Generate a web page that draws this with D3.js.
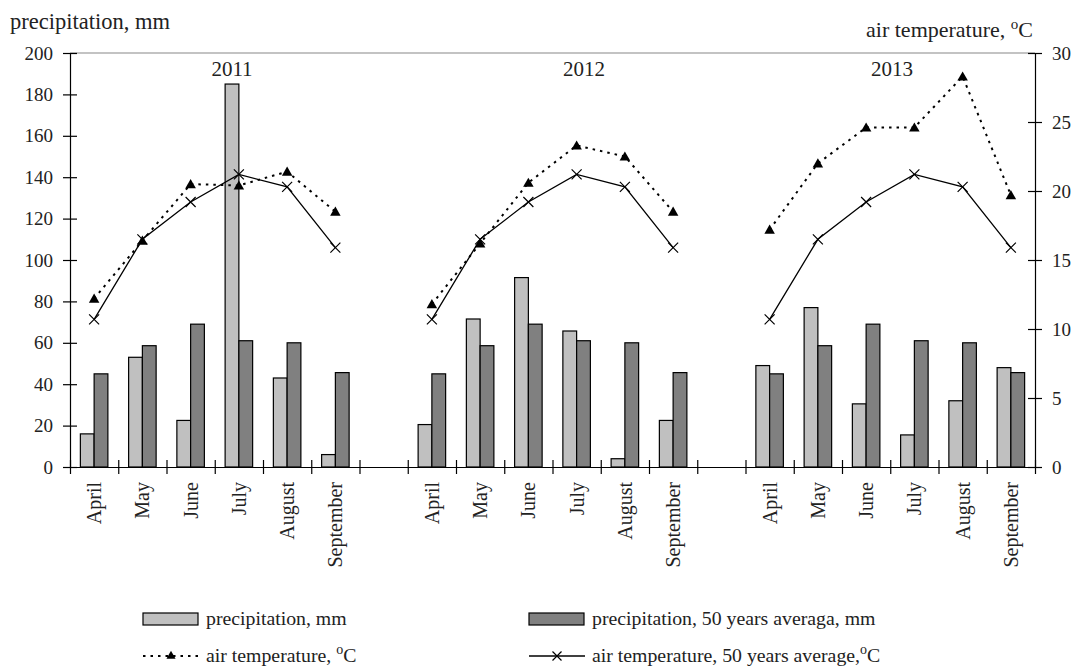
<!DOCTYPE html>
<html>
<head>
<meta charset="utf-8">
<script src="https://cdn.jsdelivr.net/npm/d3@7"></script>
<style>
  html, body { margin: 0; padding: 0; background: #fff; }
  svg { display: block; font-family: 'Liberation Serif', 'Times New Roman', serif; }
</style>
</head>
<body>
<svg id="chart" width="1075" height="670"></svg>
<script>
// ---- data ----
const years = ["2011", "2012", "2013"];
const months = ["April", "May", "June", "July", "August", "September"];
const precip2011 = [16, 53, 22.5, 185, 43, 6];
const precip2012 = [20.5, 71.5, 91.5, 65.7, 4, 22.5];
const precip2013 = [49, 77, 30.5, 15.5, 32, 48];
const precip50 = [45, 58.6, 69, 61, 60, 45.6];
const temp2011 = [12.2, 16.4, 20.5, 20.4, 21.4, 18.5];
const temp2012 = [11.8, 16.2, 20.6, 23.3, 22.5, 18.5];
const temp2013 = [17.2, 22.0, 24.6, 24.6, 28.3, 19.7];
const temp50 = [10.7, 16.5, 19.2, 21.2, 20.3, 15.9];
const leftTicks = [0, 20, 40, 60, 80, 100, 120, 140, 160, 180, 200];
const rightTicks = [0, 5, 10, 15, 20, 25, 30];
const seriesNames = ["precipitation, mm", "precipitation, 50 years averaga, mm", "air temperature, ", "air temperature, 50 years average,"];

const precipByYear = [precip2011, precip2012, precip2013];
const tempByYear = [temp2011, temp2012, temp2013];

// ---- layout ----
const svg = d3.select("#chart");
const X0 = 70, X1 = 1035, Y0 = 467, Y1 = 53;
const FONT = "'Liberation Serif', 'Times New Roman', serif";

// categories: 6 months per year with an empty category between years
const cats = [];
years.forEach((y, yi) => {
  months.forEach((m, mi) => cats.push({ key: y + "-" + m, year: yi, month: mi, label: m }));
  if (yi < years.length - 1) cats.push({ key: "gap" + yi, year: -1, month: -1, label: "" });
});

const x = d3.scaleBand().domain(cats.map(d => d.key)).range([X0, X1]).padding(0);
const xInner = d3.scaleBand().domain(["p", "a"]).range([0, x.bandwidth()]).paddingInner(0).paddingOuter(0.754);
const xBound = d3.scaleLinear().domain([0, cats.length]).range([X0, X1]);
const yL = d3.scaleLinear().domain([0, 200]).range([Y0, Y1]);
const yR = d3.scaleLinear().domain([0, 30]).range([Y0, Y1]);

const LIGHT = "#c0c0c0", DARK = "#808080";

// top border
svg.append("line").attr("x1", X0).attr("x2", X1).attr("y1", Y1).attr("y2", Y1)
  .attr("stroke", "#888").attr("stroke-width", 1.2);

// bars
const barData = [];
cats.forEach(c => {
  if (c.year < 0) return;
  barData.push({ key: c.key, s: "p", v: precipByYear[c.year][c.month] });
  barData.push({ key: c.key, s: "a", v: precip50[c.month] });
});
svg.append("g").selectAll("rect").data(barData).join("rect")
  .attr("x", d => x(d.key) + xInner(d.s))
  .attr("width", xInner.bandwidth())
  .attr("y", d => yL(d.v))
  .attr("height", d => Y0 - yL(d.v))
  .attr("fill", d => d.s === "p" ? LIGHT : DARK)
  .attr("stroke", "#000").attr("stroke-width", 1.2);

// lines (temperature, right axis)
const line = d3.line().x(d => d.x).y(d => yR(d.v));
const triPath = d3.symbol().type(d3.symbolTriangle).size(48)();
const crossPath = "M-5,-5L5,5M-5,5L5,-5";

years.forEach((yr, yi) => {
  const actual = months.map((m, mi) => ({ x: x(yr + "-" + m) + x.bandwidth() / 2, v: tempByYear[yi][mi] }));
  const avg = months.map((m, mi) => ({ x: x(yr + "-" + m) + x.bandwidth() / 2, v: temp50[mi] }));
  svg.append("path").datum(avg).attr("d", line).attr("fill", "none")
    .attr("stroke", "#000").attr("stroke-width", 1.3);
  svg.append("path").datum(actual).attr("d", line).attr("fill", "none")
    .attr("stroke", "#000").attr("stroke-width", 2).attr("stroke-dasharray", "2.5,5");
  svg.append("g").selectAll("path").data(avg).join("path")
    .attr("transform", d => `translate(${d.x},${yR(d.v)})`)
    .attr("d", crossPath).attr("stroke", "#000").attr("stroke-width", 1.2).attr("fill", "none");
  svg.append("g").selectAll("path").data(actual).join("path")
    .attr("transform", d => `translate(${d.x},${yR(d.v) + 1})`)
    .attr("d", triPath).attr("fill", "#000");
});

// left axis
const gL = svg.append("g").attr("transform", `translate(${X0},0)`)
  .call(d3.axisLeft(yL).tickValues(leftTicks).tickSizeOuter(0).tickSizeInner(7).tickPadding(10));
gL.select(".domain").attr("stroke", "#000").attr("stroke-width", 1.2);
gL.selectAll(".tick line").attr("x2", -7).attr("x1", 7).attr("stroke", "#000").attr("stroke-width", 1.2);
gL.selectAll(".tick text").attr("font-family", FONT).attr("font-size", 19).attr("fill", "#222").attr("x", -17);

// right axis
const gR = svg.append("g").attr("transform", `translate(${X1},0)`)
  .call(d3.axisRight(yR).tickValues(rightTicks).tickSizeOuter(0).tickSizeInner(7).tickPadding(10));
gR.select(".domain").attr("stroke", "#000").attr("stroke-width", 1.2);
gR.selectAll(".tick line").attr("x1", -7).attr("x2", 7).attr("stroke", "#000").attr("stroke-width", 1.2);
gR.selectAll(".tick text").attr("font-family", FONT).attr("font-size", 19).attr("fill", "#222").attr("x", 17);

// bottom axis: ticks at category boundaries
const gB = svg.append("g").attr("transform", `translate(0,${Y0})`)
  .call(d3.axisBottom(xBound).tickValues(d3.range(cats.length + 1)).tickFormat("").tickSizeOuter(0).tickSizeInner(7));
gB.select(".domain").attr("stroke", "#000").attr("stroke-width", 1.2);
gB.selectAll(".tick line").attr("y1", -7).attr("y2", 7).attr("stroke", "#000").attr("stroke-width", 1.2);

// month labels
svg.append("g").selectAll("text").data(cats.filter(c => c.year >= 0)).join("text")
  .attr("transform", d => `translate(${x(d.key) + x.bandwidth() / 2},482) rotate(-90)`)
  .attr("text-anchor", "end").attr("dy", "0.35em")
  .attr("font-family", FONT).attr("font-size", 20).attr("fill", "#222")
  .text(d => d.label);

// year labels
const yearX = [232, 584, 892];
svg.append("g").selectAll("text").data(years).join("text")
  .attr("x", (d, i) => yearX[i]).attr("y", 76).attr("text-anchor", "middle")
  .attr("font-family", FONT).attr("font-size", 21).attr("fill", "#222").text(d => d);

// axis titles
svg.append("text").attr("x", 10).attr("y", 29).attr("font-family", FONT).attr("font-size", 22.5)
  .attr("fill", "#222").text("precipitation, mm");
const rt = svg.append("text").attr("x", 1033).attr("y", 37).attr("text-anchor", "end")
  .attr("font-family", FONT).attr("font-size", 22).attr("fill", "#222");
rt.append("tspan").text("air temperature, ");
rt.append("tspan").attr("font-size", 15).attr("dy", -8).text("o");
rt.append("tspan").attr("dy", 8).text("C");

// legend
const lg = svg.append("g").attr("font-family", FONT).attr("font-size", 19.8).attr("fill", "#222");
const legendItems = [
  { x: 143, y: 619, type: "bar", fill: LIGHT, name: seriesNames[0], deg: false },
  { x: 529, y: 619, type: "bar", fill: DARK, name: seriesNames[1], deg: false },
  { x: 143, y: 656, type: "dot", name: seriesNames[2], deg: true },
  { x: 529, y: 656, type: "solid", name: seriesNames[3], deg: true }
];
legendItems.forEach(it => {
  if (it.type === "bar") {
    lg.append("rect").attr("x", it.x).attr("y", it.y - 6).attr("width", 55).attr("height", 12)
      .attr("fill", it.fill).attr("stroke", "#000").attr("stroke-width", 1.2);
  } else if (it.type === "dot") {
    lg.append("line").attr("x1", it.x).attr("x2", it.x + 56).attr("y1", it.y).attr("y2", it.y)
      .attr("stroke", "#000").attr("stroke-width", 2).attr("stroke-dasharray", "2.5,5");
    lg.append("path").attr("transform", `translate(${it.x + 28},${it.y})`)
      .attr("d", d3.symbol().type(d3.symbolTriangle).size(36)()).attr("fill", "#000");
  } else {
    lg.append("line").attr("x1", it.x).attr("x2", it.x + 56).attr("y1", it.y).attr("y2", it.y)
      .attr("stroke", "#000").attr("stroke-width", 1.3);
    lg.append("path").attr("transform", `translate(${it.x + 28},${it.y})`)
      .attr("d", "M-4.5,-4.5L4.5,4.5M-4.5,4.5L4.5,-4.5").attr("stroke", "#000").attr("stroke-width", 1.2);
  }
  const t = lg.append("text").attr("x", it.x + 63).attr("y", it.y + 6);
  t.append("tspan").text(it.name);
  if (it.deg) {
    t.append("tspan").attr("font-size", 14).attr("dy", -8).text("o");
    t.append("tspan").attr("dy", 8).text("C");
  }
});
</script>
</body>
</html>
